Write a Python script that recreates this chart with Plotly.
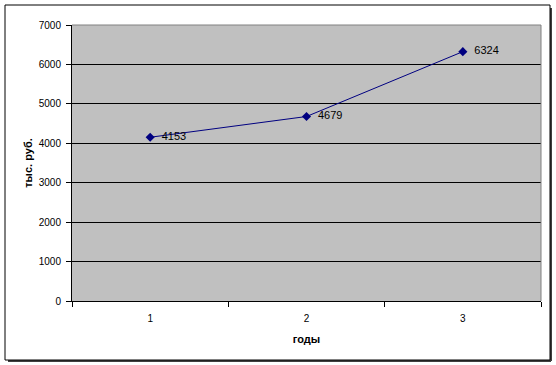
import plotly.graph_objects as go

years = [1, 2, 3]
values = [4153, 4679, 6324]
y_ticks = [0, 1000, 2000, 3000, 4000, 5000, 6000, 7000]

W, H = 556, 365
L, R, T, B = 72, 15, 25, 64
pw, ph = W - L - R, H - T - B

def px(x):
    return (x - L) / pw

def py(y):
    return (H - B - y) / ph

fig = go.Figure()
fig.add_trace(go.Scatter(
    x=years, y=values, mode="lines+markers+text",
    text=["  " + str(v) for v in values], textposition="middle right",
    textfont=dict(family="Liberation Sans, Arial", size=11, color="black"),
    line=dict(color="#000080", width=1),
    marker=dict(symbol="diamond", size=7, color="#000080"),
    cliponaxis=False, showlegend=False,
))

fig.update_layout(
    width=W, height=H, margin=dict(l=L, r=R, t=T, b=B),
    paper_bgcolor="white", plot_bgcolor="#C0C0C0",
    font=dict(family="Liberation Sans, Arial", size=10, color="black"),
    xaxis=dict(
        range=[0.5, 3.5], tickvals=years, ticktext=[str(v) for v in years],
        showgrid=False, ticks="", showline=True, linecolor="black", linewidth=1,
        zeroline=False, ticklabelstandoff=8,
        minor=dict(tickvals=[0.5, 1.5, 2.5, 3.5], ticks="outside", ticklen=5,
                   tickcolor="black", showgrid=False),
        title=dict(text="<b>годы</b>", font=dict(size=11), standoff=12),
        tickfont=dict(size=10),
    ),
    yaxis=dict(
        range=[0, 7000], tickvals=y_ticks, showgrid=True, gridcolor="black",
        gridwidth=1, ticks="outside", ticklen=5, tickcolor="black",
        showline=True, linecolor="black", linewidth=1, zeroline=False,
        ticklabelstandoff=3,
        title=dict(text="<b>тыс. руб.</b>", font=dict(size=11), standoff=3),
        tickfont=dict(size=10),
    ),
)

# outer chart border with shadow
shadow = dict(color="#404040", width=2)
fig.add_shape(type="line", xref="paper", yref="paper",
              x0=px(551), x1=px(551), y0=py(8), y1=py(361), line=shadow)
fig.add_shape(type="line", xref="paper", yref="paper",
              x0=px(8), x1=px(551), y0=py(361), y1=py(361), line=shadow)
fig.add_shape(type="rect", xref="paper", yref="paper",
              x0=px(5), x1=px(550), y0=py(360), y1=py(5),
              line=dict(color="black", width=1))
# top and right border of plot area (grey)
fig.add_shape(type="line", xref="paper", yref="paper", x0=1, x1=1, y0=0, y1=1,
              line=dict(color="#808080", width=1))
fig.add_shape(type="line", xref="paper", yref="paper", x0=0, x1=1, y0=1, y1=1,
              line=dict(color="#808080", width=1))

fig.write_html("out.html")
